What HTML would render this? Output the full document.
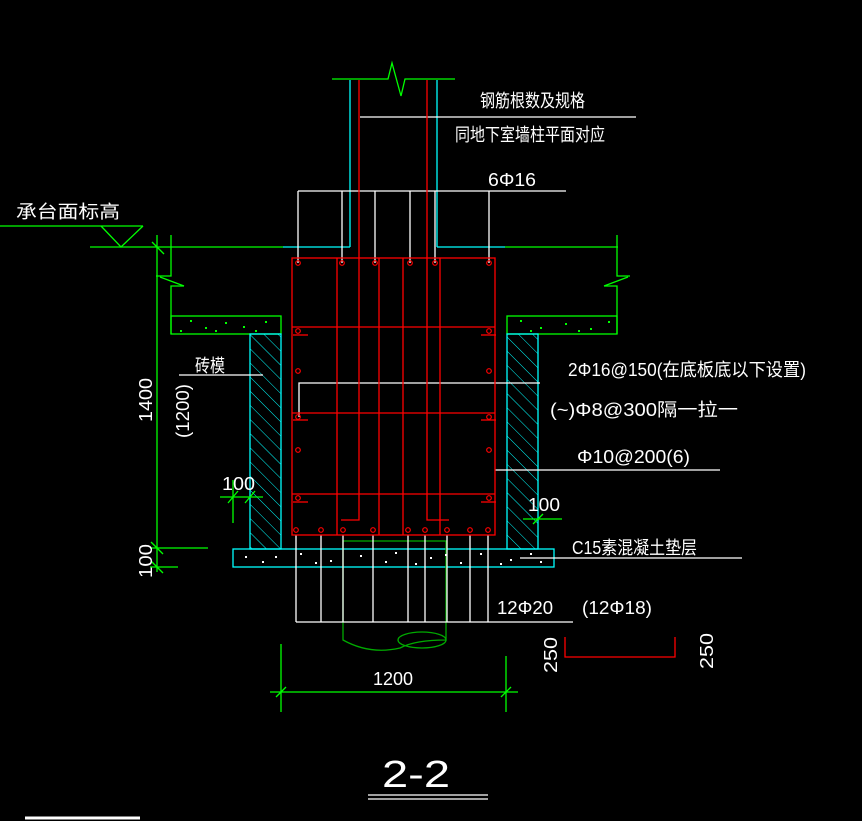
<!DOCTYPE html>
<html><head><meta charset="utf-8"><style>
html,body{margin:0;padding:0;background:#000;}
svg{display:block}
text{font-family:"Liberation Sans","Noto Sans CJK SC",sans-serif;fill:#fff;}
</style></head><body>
<svg width="862" height="821" viewBox="0 0 862 821" xmlns="http://www.w3.org/2000/svg">
<rect width="862" height="821" fill="#000"/>
<defs>
<pattern id="h" width="10" height="10" patternUnits="userSpaceOnUse" patternTransform="rotate(-45)">
<line x1="0" y1="0" x2="0" y2="10" stroke="#0ff" stroke-width="1"/>
</pattern>
</defs>
<g fill="none" stroke-width="1.3">
<line x1="0" y1="226" x2="143" y2="226" stroke="#0f0"/>
<polyline points="101,226 121,247 143,226" stroke="#0f0"/>
<line x1="90" y1="247" x2="283" y2="247" stroke="#0f0"/>
<line x1="283" y1="247" x2="350" y2="247" stroke="#0ff"/>
<line x1="350" y1="247" x2="350" y2="80" stroke="#0ff"/>
<line x1="437" y1="80" x2="437" y2="247" stroke="#0ff"/>
<line x1="437" y1="247" x2="505" y2="247" stroke="#0ff"/>
<line x1="505" y1="247" x2="618" y2="247" stroke="#0f0"/>
<polyline points="332,79 388,79 392,63 401,96 405,79 455,79" stroke="#0f0"/>
<line x1="157" y1="235" x2="157" y2="572" stroke="#0f0"/>
<polyline points="171,235 171,276 156,276" stroke="#0f0"/>
<line x1="160" y1="277" x2="184" y2="286" stroke="#0f0"/>
<polyline points="184,286 171,286 171,334" stroke="#0f0"/>
<line x1="152" y1="242" x2="164" y2="254" stroke="#0f0"/>
<polyline points="617,235 617,276 630,276" stroke="#0f0"/>
<line x1="628" y1="277" x2="604" y2="286" stroke="#0f0"/>
<polyline points="604,286 617,286 617,334" stroke="#0f0"/>
<rect x="171" y="316" width="110" height="18" stroke="#0f0"/>
<rect x="507" y="316" width="110" height="18" stroke="#0f0"/>
<rect x="250" y="334" width="31" height="215" stroke="#0ff" fill="url(#h)"/>
<rect x="507" y="334" width="31" height="215" stroke="#0ff" fill="url(#h)"/>
<rect x="233" y="549" width="321" height="18" stroke="#0ff"/>
<path d="M343,541 V640 Q370,655 400,648 Q415,640 446,640 V541 Z" stroke="#0a0"/>
<ellipse cx="422" cy="640" rx="24" ry="8" stroke="#0a0"/>
<g stroke="#fff">
<line x1="298" y1="191" x2="566" y2="191"/>
<line x1="298" y1="191" x2="298" y2="263"/><line x1="342" y1="191" x2="342" y2="263"/>
<line x1="375" y1="191" x2="375" y2="263"/><line x1="410" y1="191" x2="410" y2="263"/>
<line x1="435" y1="191" x2="435" y2="263"/><line x1="489" y1="191" x2="489" y2="263"/>
<line x1="360" y1="117" x2="636" y2="117"/>
<line x1="296" y1="622" x2="573" y2="622"/>
<line x1="296" y1="535" x2="296" y2="622"/><line x1="321" y1="535" x2="321" y2="622"/>
<line x1="343" y1="535" x2="343" y2="622"/><line x1="373" y1="535" x2="373" y2="622"/>
<line x1="408" y1="535" x2="408" y2="622"/><line x1="425" y1="535" x2="425" y2="622"/>
<line x1="447" y1="535" x2="447" y2="622"/><line x1="470" y1="535" x2="470" y2="622"/>
<line x1="488" y1="535" x2="488" y2="622"/>
<polyline points="299,417 299,383 540,383"/>
<line x1="495" y1="470" x2="720" y2="470"/>
<line x1="520" y1="558" x2="742" y2="558"/>
<line x1="179" y1="375" x2="263" y2="375"/>
<line x1="25" y1="818" x2="140" y2="818" stroke-width="3"/>
<line x1="368" y1="795" x2="488" y2="795"/>
<line x1="368" y1="799" x2="488" y2="799"/>
</g>
<g stroke="#f00">
<rect x="292" y="258" width="203" height="277"/>
<line x1="292" y1="327" x2="495" y2="327"/>
<line x1="292" y1="413" x2="495" y2="413"/>
<line x1="292" y1="494" x2="495" y2="494"/>
<line x1="337" y1="258" x2="337" y2="535"/>
<line x1="379" y1="258" x2="379" y2="535"/>
<line x1="403" y1="258" x2="403" y2="535"/>
<line x1="440" y1="258" x2="440" y2="535"/>
<polyline points="359,80 359,520 341,520"/>
<polyline points="427,80 427,520 449,520"/>
<line x1="293" y1="335" x2="308" y2="335"/><line x1="481" y1="335" x2="496" y2="335"/>
<line x1="293" y1="420" x2="308" y2="420"/><line x1="481" y1="420" x2="496" y2="420"/>
<line x1="293" y1="502" x2="308" y2="502"/><line x1="481" y1="502" x2="496" y2="502"/>
<polyline points="565,637 565,657 675,657 675,637"/>
<g stroke-width="1.2">
<circle cx="298" cy="263" r="2.3"/><circle cx="342" cy="263" r="2.3"/><circle cx="375" cy="263" r="2.3"/><circle cx="410" cy="263" r="2.3"/><circle cx="435" cy="263" r="2.3"/><circle cx="489" cy="263" r="2.3"/>
<circle cx="298" cy="331" r="2.3"/><circle cx="298" cy="371" r="2.3"/><circle cx="298" cy="417" r="2.3"/><circle cx="298" cy="450" r="2.3"/><circle cx="298" cy="498" r="2.3"/>
<circle cx="489" cy="331" r="2.3"/><circle cx="489" cy="371" r="2.3"/><circle cx="489" cy="417" r="2.3"/><circle cx="489" cy="450" r="2.3"/><circle cx="489" cy="498" r="2.3"/>
<circle cx="296" cy="530" r="2.3"/><circle cx="321" cy="530" r="2.3"/><circle cx="343" cy="530" r="2.3"/><circle cx="373" cy="530" r="2.3"/><circle cx="408" cy="530" r="2.3"/><circle cx="425" cy="530" r="2.3"/><circle cx="447" cy="530" r="2.3"/><circle cx="470" cy="530" r="2.3"/><circle cx="488" cy="530" r="2.3"/>
</g>
</g>
<g stroke="#0f0">
<line x1="150" y1="548" x2="208" y2="548"/>
<line x1="150" y1="567" x2="178" y2="567"/>
<line x1="151" y1="542" x2="163" y2="554"/>
<line x1="151" y1="561" x2="163" y2="573"/>
<line x1="220" y1="497" x2="263" y2="497"/>
<line x1="233" y1="480" x2="233" y2="523"/>
<line x1="228" y1="503" x2="238" y2="491"/><line x1="245" y1="503" x2="255" y2="491"/>
<line x1="523" y1="519" x2="562" y2="519"/>
<line x1="533" y1="524" x2="543" y2="514"/>
<line x1="270" y1="692" x2="518" y2="692"/>
<line x1="281" y1="644" x2="281" y2="712"/>
<line x1="506" y1="656" x2="506" y2="712"/>
<line x1="276" y1="697" x2="286" y2="687"/>
<line x1="501" y1="697" x2="511" y2="687"/>
</g>
</g>
<g fill="#0f0">
<rect x="190" y="320" width="2" height="2"/><rect x="205" y="327" width="2" height="2"/><rect x="225" y="322" width="2" height="2"/><rect x="243" y="326" width="2" height="2"/><rect x="265" y="321" width="2" height="2"/><rect x="180" y="330" width="2" height="2"/><rect x="215" y="330" width="2" height="2"/><rect x="255" y="330" width="2" height="2"/><rect x="520" y="320" width="2" height="2"/><rect x="540" y="327" width="2" height="2"/><rect x="565" y="323" width="2" height="2"/><rect x="590" y="328" width="2" height="2"/><rect x="608" y="321" width="2" height="2"/><rect x="530" y="330" width="2" height="2"/><rect x="578" y="330" width="2" height="2"/>
</g>
<g fill="#fff">
<rect x="245" y="556" width="2" height="2"/><rect x="262" y="561" width="2" height="2"/><rect x="300" y="553" width="2" height="2"/><rect x="330" y="560" width="2" height="2"/><rect x="360" y="555" width="2" height="2"/><rect x="385" y="561" width="2" height="2"/><rect x="395" y="552" width="2" height="2"/><rect x="430" y="557" width="2" height="2"/><rect x="460" y="562" width="2" height="2"/><rect x="480" y="553" width="2" height="2"/><rect x="510" y="559" width="2" height="2"/><rect x="530" y="553" width="2" height="2"/><rect x="275" y="556" width="2" height="2"/><rect x="315" y="562" width="2" height="2"/><rect x="415" y="563" width="2" height="2"/><rect x="445" y="554" width="2" height="2"/><rect x="500" y="563" width="2" height="2"/><rect x="540" y="561" width="2" height="2"/>
</g>
<g font-size="18">
<text x="480" y="107" textLength="105" lengthAdjust="spacingAndGlyphs">钢筋根数及规格</text>
<text x="455" y="141" textLength="150" lengthAdjust="spacingAndGlyphs">同地下室墙柱平面对应</text>
<text x="488" y="186" textLength="48" lengthAdjust="spacingAndGlyphs">6Φ16</text>
<text x="16" y="218" textLength="104" lengthAdjust="spacingAndGlyphs">承台面标高</text>
<text x="195" y="372" textLength="30" lengthAdjust="spacingAndGlyphs">砖模</text>
<text x="568" y="376" textLength="238" lengthAdjust="spacingAndGlyphs">2Φ16@150(在底板底以下设置)</text>
<text x="550" y="416" textLength="188" lengthAdjust="spacingAndGlyphs">(~)Φ8@300隔一拉一</text>
<text x="577" y="463" textLength="113" lengthAdjust="spacingAndGlyphs">Φ10@200(6)</text>
<text x="572" y="554" textLength="125" lengthAdjust="spacingAndGlyphs">C15素混凝土垫层</text>
<text x="497" y="614" textLength="56" lengthAdjust="spacingAndGlyphs">12Φ20</text>
<text x="582" y="614" textLength="70" lengthAdjust="spacingAndGlyphs">(12Φ18)</text>
<text x="222" y="490" textLength="33" lengthAdjust="spacingAndGlyphs">100</text>
<text x="528" y="511" textLength="32" lengthAdjust="spacingAndGlyphs">100</text>
<text x="373" y="685" textLength="40" lengthAdjust="spacingAndGlyphs">1200</text>
<text transform="translate(152,422) rotate(-90)" textLength="44" lengthAdjust="spacingAndGlyphs">1400</text>
<text transform="translate(189,438) rotate(-90)" textLength="54" lengthAdjust="spacingAndGlyphs">(1200)</text>
<text transform="translate(152,578) rotate(-90)" textLength="34" lengthAdjust="spacingAndGlyphs">100</text>
<text transform="translate(557,673) rotate(-90)" textLength="36" lengthAdjust="spacingAndGlyphs">250</text>
<text transform="translate(713,669) rotate(-90)" textLength="36" lengthAdjust="spacingAndGlyphs">250</text>
</g>
<text x="382" y="787" font-size="38" textLength="68" lengthAdjust="spacingAndGlyphs">2-2</text>
</svg>
</body></html>
